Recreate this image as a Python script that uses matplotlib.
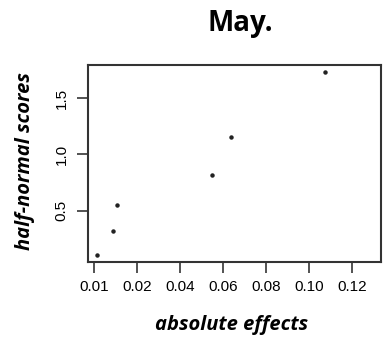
import matplotlib
matplotlib.use("Agg")
import matplotlib.pyplot as plt

# data
abs_effects = [0.0013, 0.0090, 0.0108, 0.0549, 0.0636, 0.1074]
half_normal_scores = [0.105, 0.319, 0.549, 0.812, 1.150, 1.732]
xtick_pos = [0.00, 0.02, 0.04, 0.06, 0.08, 0.10, 0.12]
xtick_labels = ["0.01", "0.02", "0.04", "0.06", "0.08", "0.10", "0.12"]
ytick_pos = [0.5, 1.0, 1.5]
ytick_labels = ["0.5", "1.0", "1.5"]
title = "May."
xlabel = "absolute effects"
ylabel = "half-normal scores"

fig = plt.figure(figsize=(3.87, 3.42), dpi=100)
ax = fig.add_axes([88/387, 1-262/342, (381-88)/387, (262-65)/342])

ax.plot(abs_effects, half_normal_scores, linestyle="none", marker="o",
        markersize=2.2, color="#222222")

ax.set_xlim(-0.0028, 0.1335)
ax.set_ylim(0.044, 1.793)
ax.set_xticks(xtick_pos)
ax.set_xticklabels(xtick_labels, fontfamily="Liberation Sans", fontsize=11)
ax.set_yticks(ytick_pos)
ax.set_yticklabels(ytick_labels, fontfamily="Liberation Sans", fontsize=11,
                   rotation=90, va="center")
ax.tick_params(axis="x", length=8, width=1.3, color="#444444", pad=5)
ax.tick_params(axis="y", length=8, width=1.3, color="#444444", pad=6)
for s in ax.spines.values():
    s.set_linewidth(1.5)
    s.set_color("#333333")

fig.text(240/387, 1-23/342, title, ha="center", va="center",
         fontfamily="Open Sans", fontweight="bold", fontsize=20)
fig.text(232/387, 1-325/342, xlabel, ha="center", va="center",
         fontfamily="Open Sans", fontweight="bold", fontstyle="italic", fontsize=14.5)
fig.text(25/387, 1-161/342, ylabel, ha="center", va="center", rotation=90,
         fontfamily="Open Sans", fontweight="bold", fontstyle="italic", fontsize=14.5)

fig.savefig("out.png", dpi=100)
